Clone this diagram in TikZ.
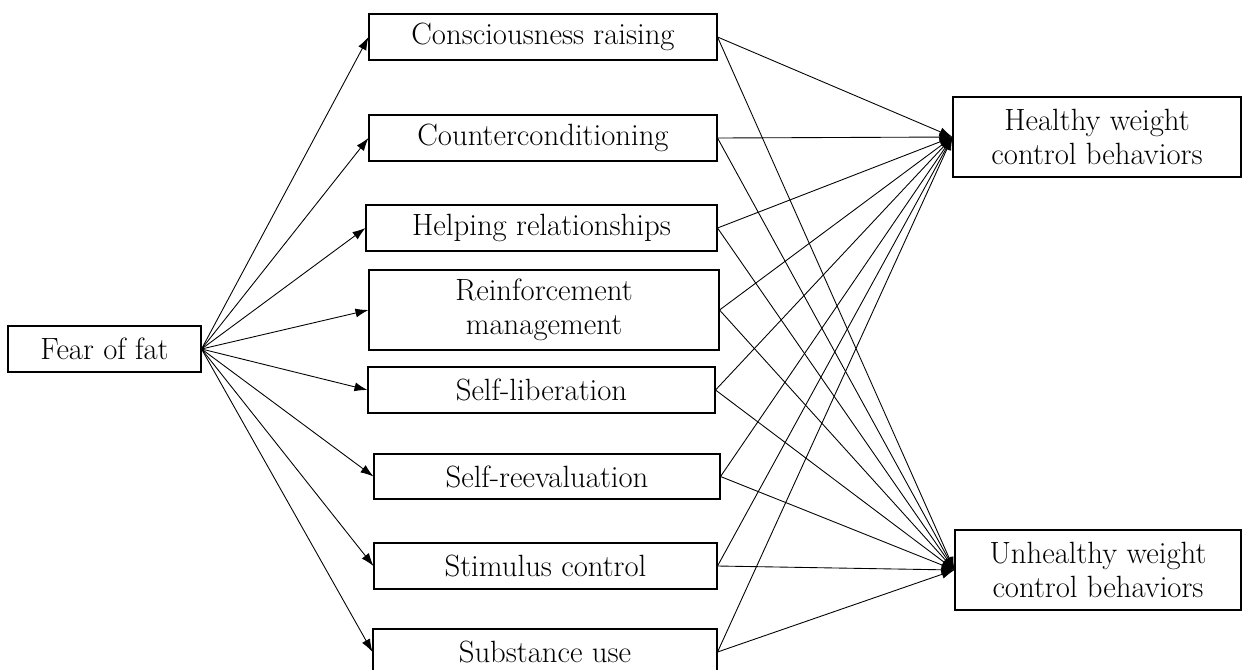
\documentclass[tikz,border=0pt]{standalone}
\usetikzlibrary{arrows.meta}
\tikzset{
  box/.style={draw, line width=0.6pt, align=center, inner sep=0pt,
    font=\fontsize{17.5}{19}\selectfont},
  path/.style={line width=0.5pt, -{Latex[length=2.6mm,width=1.8mm]}}
}
\begin{document}
\begin{tikzpicture}[x=0.02cm,y=-0.02cm]
    \useasboundingbox (0,0) rectangle (1242,670);
    % Predictor
    \node[box, minimum width=193*0.02cm, minimum height=46*0.02cm] (fear) at (104.5,349) {Fear of fat};
    % Processes of change
    \node[box, minimum width=348*0.02cm, minimum height=46*0.02cm] (cons) at (543,37) {Consciousness raising};
    \node[box, minimum width=348*0.02cm, minimum height=46*0.02cm] (counter) at (543,138) {Counterconditioning};
    \node[box, minimum width=351*0.02cm, minimum height=46*0.02cm] (helping) at (541.5,228) {Helping relationships};
    \node[box, minimum width=350*0.02cm, minimum height=80*0.02cm] (reinf) at (544,310) {Reinforcement\\management};
    \node[box, minimum width=347*0.02cm, minimum height=46*0.02cm] (selflib) at (541.5,390) {Self-liberation};
    \node[box, minimum width=346*0.02cm, minimum height=45*0.02cm] (selfre) at (547,476.5) {Self-reevaluation};
    \node[box, minimum width=343*0.02cm, minimum height=46*0.02cm] (stim) at (545.5,566) {Stimulus control};
    \node[box, minimum width=344*0.02cm, minimum height=46*0.02cm] (subst) at (545,652) {Substance use};
    % Outcomes
    \node[box, minimum width=288*0.02cm, minimum height=80*0.02cm] (healthy) at (1097,137) {Healthy weight\\control behaviors};
    \node[box, minimum width=286*0.02cm, minimum height=80*0.02cm] (unhealthy) at (1098,570) {Unhealthy weight\\control behaviors};
    % Paths
    \foreach \m in {cons,counter,helping,reinf,selflib,selfre,stim,subst} {
        \draw[path] (fear.east) -- (\m.west);
        \draw[path] (\m.east) -- (healthy.west);
        \draw[path] (\m.east) -- (unhealthy.west);
    }
\end{tikzpicture}
\end{document}
